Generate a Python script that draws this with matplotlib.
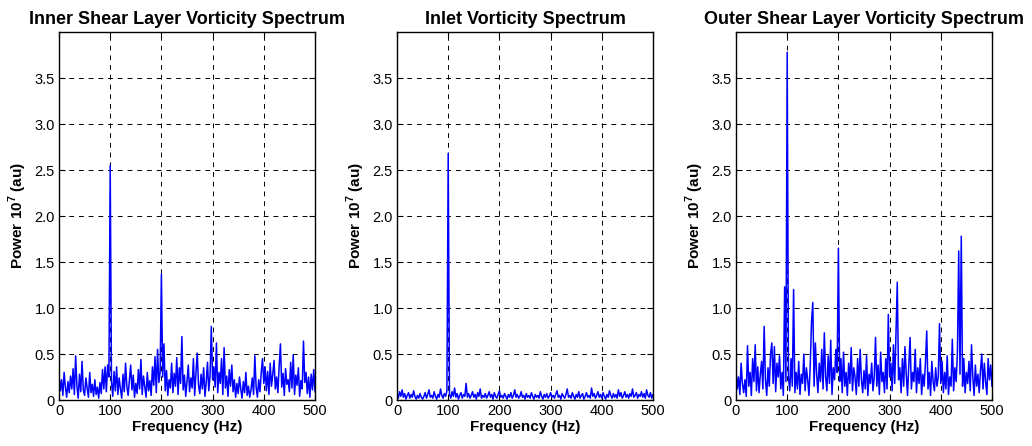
import numpy as np
import matplotlib
matplotlib.use("Agg")
import matplotlib.pyplot as plt
from matplotlib.ticker import FixedLocator, FixedFormatter

plt.rcParams['font.family'] = ['Liberation Sans', 'DejaVu Sans']
plt.rcParams['mathtext.fontset'] = 'custom'
plt.rcParams['mathtext.rm'] = 'Liberation Sans'
plt.rcParams['mathtext.bf'] = 'Liberation Sans:bold'

# Frequency axis (Hz), 2.5 Hz bins
freq = np.arange(0, 500.01, 2.5)

# Power spectra in units of 1e7 (au)
inner_power = [
    0.28, 0.10, 0.22, 0.05, 0.30, 0.14, 0.03, 0.20, 0.08, 0.26,
    0.12, 0.34, 0.06, 0.48, 0.15, 0.02, 0.28, 0.09, 0.42, 0.11,
    0.05, 0.24, 0.13, 0.03, 0.30, 0.08, 0.17, 0.04, 0.22, 0.06,
    0.14, 0.02, 0.19, 0.07, 0.33, 0.12, 0.36, 0.09, 0.38, 0.25,
    2.55, 0.20, 0.04, 0.31, 0.10, 0.36, 0.06, 0.24, 0.12, 0.02,
    0.28, 0.09, 0.40, 0.15, 0.05, 0.22, 0.38, 0.11, 0.27, 0.03,
    0.18, 0.07, 0.33, 0.12, 0.44, 0.06, 0.26, 0.14, 0.03, 0.30,
    0.10, 0.21, 0.05, 0.36, 0.16, 0.47, 0.08, 0.55, 0.19, 0.30,
    1.37, 0.25, 0.61, 0.10, 0.32, 0.05, 0.22, 0.13, 0.40, 0.08,
    0.29, 0.15, 0.46, 0.06, 0.35, 0.18, 0.69, 0.11, 0.27, 0.04,
    0.20, 0.38, 0.09, 0.24, 0.13, 0.45, 0.05, 0.30, 0.51, 0.16,
    0.07, 0.28, 0.12, 0.35, 0.04, 0.19, 0.41, 0.10, 0.26, 0.80,
    0.22, 0.36, 0.14, 0.62, 0.08, 0.30, 0.18, 0.45, 0.06, 0.57,
    0.13, 0.26, 0.04, 0.33, 0.15, 0.38, 0.09, 0.22, 0.03, 0.18,
    0.07, 0.25, 0.12, 0.02, 0.20, 0.08, 0.30, 0.05, 0.15, 0.03,
    0.11, 0.24, 0.06, 0.48, 0.14, 0.03, 0.22, 0.09, 0.30, 0.45,
    0.18, 0.36, 0.10, 0.31, 0.06, 0.40, 0.15, 0.28, 0.43, 0.12,
    0.25, 0.08, 0.37, 0.61, 0.14, 0.29, 0.05, 0.34, 0.17, 0.22,
    0.09, 0.41, 0.13, 0.49, 0.06, 0.27, 0.16, 0.35, 0.04, 0.21,
    0.12, 0.64, 0.19, 0.30, 0.07, 0.25, 0.03, 0.28, 0.11, 0.33,
    0.09,
]

inlet_power = [
    0.06, 0.02, 0.09, 0.04, 0.11, 0.03, 0.07, 0.01, 0.05, 0.08,
    0.02, 0.06, 0.03, 0.10, 0.04, 0.01, 0.05, 0.02, 0.07, 0.03,
    0.01, 0.04, 0.08, 0.02, 0.06, 0.11, 0.03, 0.05, 0.02, 0.09,
    0.04, 0.01, 0.06, 0.03, 0.12, 0.05, 0.02, 0.07, 0.04, 0.10,
    2.68, 0.06, 0.02, 0.09, 0.04, 0.13, 0.03, 0.07, 0.01, 0.05,
    0.08, 0.02, 0.06, 0.04, 0.18, 0.03, 0.07, 0.02, 0.05, 0.09,
    0.03, 0.06, 0.01, 0.08, 0.04, 0.12, 0.02, 0.05, 0.03, 0.07,
    0.02, 0.05, 0.09, 0.03, 0.06, 0.01, 0.08, 0.04, 0.02, 0.06,
    0.10, 0.03, 0.05, 0.02, 0.07, 0.04, 0.01, 0.06, 0.03, 0.08,
    0.02, 0.05, 0.11, 0.03, 0.06, 0.02, 0.04, 0.09, 0.03, 0.05,
    0.01, 0.07, 0.03, 0.05, 0.02, 0.08, 0.04, 0.01, 0.06, 0.03,
    0.05, 0.02, 0.09, 0.04, 0.01, 0.06, 0.03, 0.07, 0.02, 0.04,
    0.08, 0.03, 0.05, 0.02, 0.06, 0.10, 0.03, 0.05, 0.01, 0.07,
    0.04, 0.02, 0.06, 0.12, 0.03, 0.05, 0.02, 0.08, 0.04, 0.01,
    0.06, 0.03, 0.09, 0.02, 0.05, 0.07, 0.01, 0.04, 0.08, 0.03,
    0.05, 0.02, 0.13, 0.04, 0.07, 0.02, 0.05, 0.09, 0.03, 0.06,
    0.02, 0.08, 0.04, 0.01, 0.06, 0.03, 0.10, 0.05, 0.02, 0.07,
    0.03, 0.06, 0.02, 0.11, 0.04, 0.08, 0.02, 0.05, 0.09, 0.03,
    0.06, 0.02, 0.07, 0.04, 0.12, 0.03, 0.05, 0.08, 0.02, 0.06,
    0.04, 0.09, 0.03, 0.07, 0.02, 0.11, 0.05, 0.03, 0.08, 0.02,
    0.06,
]

outer_power = [
    0.32, 0.12, 0.25, 0.06, 0.40, 0.18, 0.08, 0.22, 0.04, 0.59,
    0.15, 0.30, 0.05, 0.45, 0.20, 0.60, 0.10, 0.36, 0.08, 0.28,
    0.42, 0.12, 0.80, 0.22, 0.05, 0.35, 0.15, 0.50, 0.62, 0.18,
    0.58, 0.09, 0.40, 0.25, 0.48, 0.12, 0.30, 0.05, 1.23, 0.20,
    3.78, 0.25, 0.10, 0.45, 0.15, 1.20, 0.08, 0.30, 0.12, 0.42,
    0.06, 0.28, 0.18, 0.50, 0.10, 0.35, 0.22, 0.05, 0.38, 0.85,
    1.06, 0.15, 0.62, 0.28, 0.08, 0.40, 0.20, 0.55, 0.12, 0.73,
    0.25, 0.10, 0.48, 0.18, 0.65, 0.06, 0.35, 0.22, 0.55, 0.30,
    1.65, 0.20, 0.45, 0.08, 0.52, 0.15, 0.30, 0.05, 0.40, 0.18,
    0.57, 0.10, 0.35, 0.25, 0.06, 0.45, 0.15, 0.55, 0.22, 0.08,
    0.32, 0.12, 0.48, 0.05, 0.28, 0.18, 0.40, 0.10, 0.25, 0.68,
    0.15, 0.38, 0.06, 0.52, 0.20, 0.30, 0.08, 0.45, 0.12, 0.93,
    0.25, 0.40, 0.10, 0.60, 0.18, 0.72, 1.28, 0.22, 0.35, 0.08,
    0.45, 0.15, 0.58, 0.28, 0.05, 0.38, 0.68, 0.12, 0.30, 0.20,
    0.55, 0.08, 0.35, 0.18, 0.45, 0.06, 0.28, 0.15, 0.40, 0.75,
    0.12, 0.30, 0.05, 0.42, 0.20, 0.10, 0.35, 0.15, 0.25, 0.83,
    0.18, 0.42, 0.08, 0.30, 0.12, 0.48, 0.06, 0.25, 0.15, 0.66,
    0.10, 0.35, 0.20, 0.52, 1.62, 0.28, 1.78, 0.15, 0.45, 0.08,
    0.30, 0.18, 0.42, 0.10, 0.60, 0.25, 0.05, 0.38, 0.15, 0.28,
    0.08, 0.32, 0.50, 0.12, 0.40, 0.20, 0.06, 0.45, 0.22, 0.38,
    0.15,
]

titles = [
    "Inner Shear Layer Vorticity Spectrum",
    "Inlet Vorticity Spectrum",
    "Outer Shear Layer Vorticity Spectrum",
]
series = [inner_power, inlet_power, outer_power]

x_ticks = [0, 100, 200, 300, 400, 500]
x_tick_labels = ["0", "100", "200", "300", "400", "500"]
y_ticks = [0, 0.5, 1.0, 1.5, 2.0, 2.5, 3.0, 3.5]
y_tick_labels = ["0", "0.5", "1.0", "1.5", "2.0", "2.5", "3.0", "3.5"]

W, H = 1032, 446
fig = plt.figure(figsize=(W / 100, H / 100), dpi=100)
lefts = [59, 397, 736]
ax_w, ax_bottom, ax_h = 256, 46, 368

for left, title, values in zip(lefts, titles, series):
    ax = fig.add_axes([left / W, ax_bottom / H, ax_w / W, ax_h / H])
    ax.plot(freq, values, color=(0, 0, 1), linewidth=1.1)
    ax.set_xlim(0, 500)
    ax.set_ylim(0, 4)
    ax.xaxis.set_major_locator(FixedLocator(x_ticks))
    ax.xaxis.set_major_formatter(FixedFormatter(x_tick_labels))
    ax.yaxis.set_major_locator(FixedLocator(y_ticks))
    ax.yaxis.set_major_formatter(FixedFormatter(y_tick_labels))
    ax.grid(True, color='black', linestyle=(0, (5, 5)), linewidth=0.7)
    ax.tick_params(direction='in', length=4, width=0.8, top=True, right=True,
                   labelsize=10.5, pad=3, colors='black')
    for sp in ax.spines.values():
        sp.set_linewidth(1.0)
        sp.set_color('black')
    ax.set_title(title, fontsize=13, fontweight='bold', pad=6)
    ax.set_xlabel("Frequency (Hz)", fontsize=11, fontweight='bold', labelpad=1)
    ax.set_ylabel(r"Power 10$^{\mathbf{7}}$ (au)", fontsize=11,
                  fontweight='bold', labelpad=4)

fig.savefig("out.png", dpi=100)
